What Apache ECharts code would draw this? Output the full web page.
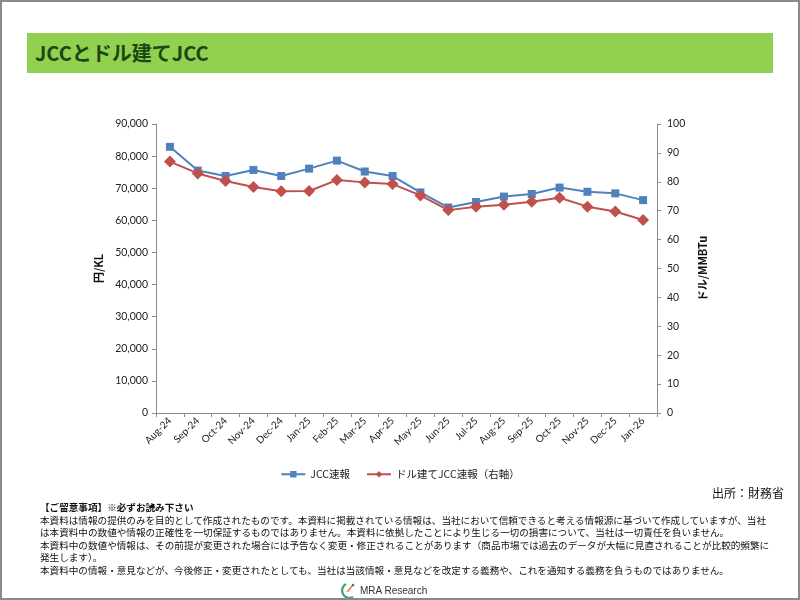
<!DOCTYPE html>
<html>
<head>
<meta charset="utf-8">
<script src="https://cdn.jsdelivr.net/npm/echarts@6/dist/echarts.min.js"></script>
<style>
  html,body{margin:0;padding:0;background:#fff;}
  #wrap{position:relative;width:800px;height:600px;overflow:hidden;font-family:"Noto Sans CJK JP","Noto Sans",sans-serif;}
  #frame{position:absolute;left:0;top:0;width:796px;height:596px;border:2px solid #8a8a8a;pointer-events:none;}
  #chart{position:absolute;left:0;top:0;width:800px;height:600px;}
  #band{position:absolute;left:27px;top:33px;width:746px;height:40px;background:#92D050;}
  #title{position:absolute;left:35px;top:42px;font-size:20px;line-height:22px;color:#1a4712;font-weight:bold;}
  #source{position:absolute;right:16px;top:484px;font-size:12px;color:#111;}
  #notes{position:absolute;left:40px;top:501px;font-size:9.6px;line-height:12.6px;color:#111;white-space:nowrap;}
  #notes b{font-weight:bold;}
  #logo{position:absolute;left:340px;top:582px;font-family:"Liberation Sans",Arial,sans-serif;font-size:10px;color:#333;}
</style>
</head>
<body>
<div id="wrap">
  <div id="band"></div>
  <div id="title">JCCとドル建てJCC</div>
  <div id="chart"></div>
  <div id="source">出所：財務省</div>
  <div id="notes">
    <b>【ご留意事項】※必ずお読み下さい</b><br>
    本資料は情報の提供のみを目的として作成されたものです。本資料に掲載されている情報は、当社において信頼できると考える情報源に基づいて作成していますが、当社<br>
    は本資料中の数値や情報の正確性を一切保証するものではありません。本資料に依拠したことにより生じる一切の損害について、当社は一切責任を負いません。<br>
    本資料中の数値や情報は、その前提が変更された場合には予告なく変更・修正されることがあります（商品市場では過去のデータが大幅に見直されることが比較的頻繁に<br>
    発生します）。<br>
    本資料中の情報・意見などが、今後修正・変更されたとしても、当社は当該情報・意見などを改定する義務や、これを通知する義務を負うものではありません。
  </div>
  <div id="logo"><svg width="16" height="16" viewBox="0 0 16 16" style="vertical-align:-4px;margin-right:4px"><path d="M6 2 A7 7 0 0 0 13 15" stroke="#3aa76d" stroke-width="2.2" fill="none"/><path d="M7 10 L13 3" stroke="#e07b39" stroke-width="1.5"/><circle cx="13" cy="3" r="1.3" fill="#3a6fb0"/></svg>MRA Research</div>
  <div id="frame"></div>
</div>
<script>
const categories = ['Aug-24','Sep-24','Oct-24','Nov-24','Dec-24','Jan-25','Feb-25','Mar-25','Apr-25','May-25','Jun-25','Jul-25','Aug-25','Sep-25','Oct-25','Nov-25','Dec-25','Jan-26'];
const jccYen = [82900, 75500, 73800, 75700, 73800, 76100, 78600, 75200, 73800, 68700, 64000, 65700, 67400, 68200, 70200, 68900, 68400, 66300];
const jccUsd = [87.0, 82.9, 80.3, 78.2, 76.7, 76.8, 80.6, 79.8, 79.2, 75.3, 70.2, 71.4, 72.1, 73.1, 74.5, 71.4, 69.7, 66.8];
const seriesNames = ['JCC速報', 'ドル建てJCC速報（右軸）'];

const axisColor = '#8c8c8c';
const labelFont = {color:'#222', fontSize:10.5, fontFamily:'Lato, "Noto Sans CJK JP", sans-serif'};
const chart = echarts.init(document.getElementById('chart'));
chart.setOption({
  animation:false,
  grid:{left:156, right:143, top:124, bottom:187, containLabel:false},
  legend:{
    data:seriesNames, left:'center', top:464, itemWidth:24, itemHeight:8, itemGap:16,
    textStyle:{color:'#222', fontSize:10.5, fontFamily:'"Noto Sans CJK JP", sans-serif'}
  },
  xAxis:{
    type:'category', data:categories, boundaryGap:true,
    axisLine:{lineStyle:{color:axisColor}},
    axisTick:{show:true, length:4, lineStyle:{color:axisColor}},
    axisLabel:Object.assign({rotate:45, interval:0, margin:6, fontSize:10}, {color:'#222', fontFamily:'Lato, sans-serif'}),
    splitLine:{show:false}
  },
  yAxis:[
    {
      type:'value', min:0, max:90000, interval:10000, position:'left',
      name:'円/KL', nameLocation:'middle', nameGap:52, nameRotate:90,
      nameTextStyle:{fontWeight:'bold', fontSize:11, color:'#111', fontFamily:'"Noto Sans CJK JP", sans-serif'},
      axisLine:{show:true, lineStyle:{color:axisColor}},
      axisTick:{show:true, length:4, lineStyle:{color:axisColor}},
      axisLabel:Object.assign({margin:8}, labelFont),
      splitLine:{show:false}
    },
    {
      type:'value', min:0, max:100, interval:10, position:'right',
      name:'ドル/MMBTu', nameLocation:'middle', nameGap:40, nameRotate:90,
      nameTextStyle:{fontWeight:'bold', fontSize:11, color:'#111', fontFamily:'"Noto Sans CJK JP", sans-serif'},
      axisLine:{show:true, lineStyle:{color:axisColor}},
      axisTick:{show:true, length:4, lineStyle:{color:axisColor}},
      axisLabel:Object.assign({margin:10}, labelFont),
      splitLine:{show:false}
    }
  ],
  series:[
    {
      name:seriesNames[0], type:'line', yAxisIndex:0, data:jccYen,
      symbol:'rect', symbolSize:8,
      lineStyle:{color:'#4F81BD', width:2},
      itemStyle:{color:'#4F81BD'}
    },
    {
      name:seriesNames[1], type:'line', yAxisIndex:1, data:jccUsd,
      symbol:'diamond', symbolSize:12,
      lineStyle:{color:'#C0504D', width:2},
      itemStyle:{color:'#C0504D'}
    }
  ]
});
</script>
</body>
</html>
